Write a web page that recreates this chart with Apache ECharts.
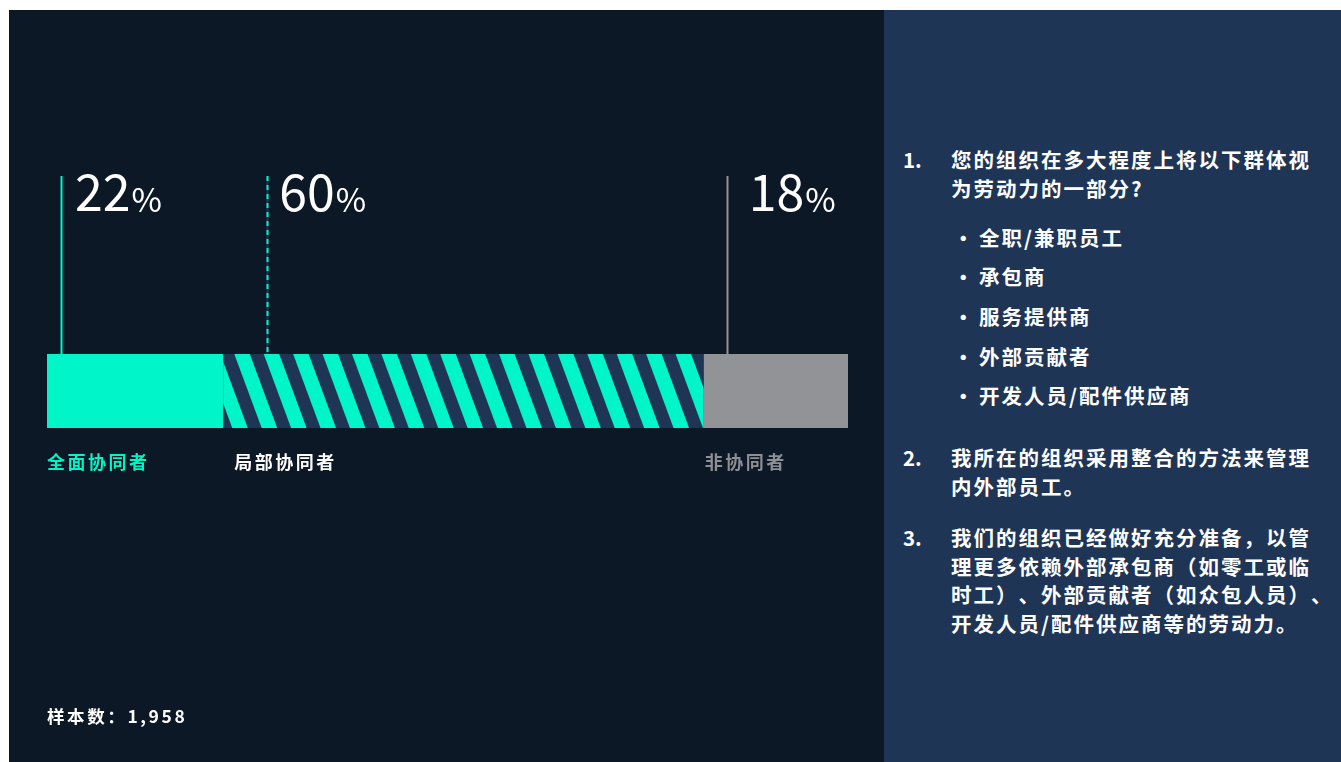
<!DOCTYPE html>
<html>
<head>
<meta charset="utf-8">
<script src="https://cdn.jsdelivr.net/npm/echarts@6/dist/echarts.min.js"></script>
<style>
  html, body { margin: 0; padding: 0; width: 1341px; height: 762px; overflow: hidden; background: #ffffff; }
  body { font-family: 'Noto Sans CJK SC', sans-serif; }
  #stage { position: absolute; left: 9px; top: 10px; width: 875px; height: 752px; background: #0d1826; }
  #chart { position: absolute; left: 0; top: 0; width: 1341px; height: 762px; }
  #notes { position: absolute; left: 884px; top: 10px; width: 457px; height: 752px; background: #1f3556;
           color: #ffffff; font-weight: 700; font-size: 20.5px; letter-spacing: 2px; text-spacing-trim: space-all; }
  #notes .blk { position: absolute; left: 0; width: 457px; line-height: 28.5px; white-space: nowrap; }
  #notes .num { position: absolute; left: 19px; top: 0; letter-spacing: 0; }
  #notes .txt { position: absolute; left: 67px; top: 0; }
  #notes .item { position: absolute; left: 0; width: 457px; height: 39.6px; line-height: 39.6px; white-space: nowrap; }
  #notes .dot { position: absolute; left: 69px; top: 0; letter-spacing: 0; }
  #notes .itxt { position: absolute; left: 95px; top: 0; }
</style>
</head>
<body>
<div id="stage"></div>
<div id="chart"></div>
<div id="notes"></div>
<script>
// Respondent split: full / partial / non collaborators
const categories = ['全面协同者', '局部协同者', '非协同者'];
const shares = [22, 60, 18];
const sampleLabel = '样本数：';
const sampleSize = '1,958';

// Survey statements shown in the side panel
const questionNumbers = ['1.', '2.', '3.'];
const question1Lines = ['您的组织在多大程度上将以下群体视', '为劳动力的一部分?'];
const question1Items = ['全职/兼职员工', '承包商', '服务提供商', '外部贡献者', '开发人员/配件供应商'];
const question2Lines = ['我所在的组织采用整合的方法来管理', '内外部员工。'];
const question3Lines = ['我们的组织已经做好充分准备，以管', '理更多依赖外部承包商（如零工或临', '时工）、外部贡献者（如众包人员）、', '开发人员/配件供应商等的劳动力。'];

// Palette
const TEAL = '#00f5c8';
const NAVY = '#1f3556';
const GREY = '#929397';
const FONT = "'Noto Sans CJK SC', 'Noto Sans', sans-serif";

// Layout of the callouts relative to each segment's left edge (px)
const calloutLineOffset = [14, 44, 23];
const calloutTextOffset = [14, 12, 22];
const categoryLabelOffset = [0, 11, 1];
const calloutColors = [TEAL, TEAL, GREY];
const categoryColors = [TEAL, '#ffffff', '#8e8f94'];

// Diagonal teal/navy hatch used for the partial segment
function stripeTexture() {
  const c = document.createElement('canvas');
  c.width = 1341; c.height = 762;
  const g = c.getContext('2d');
  g.fillStyle = NAVY;
  g.fillRect(0, 0, c.width, c.height);
  g.fillStyle = TEAL;
  const slope = 0.37, period = 29.42, band = 15.5, y0 = 354, phase = 234.3;
  for (let k = -20; k < 50; k++) {
    const a = phase + k * period;
    g.beginPath();
    g.moveTo(a - slope * y0, 0);
    g.lineTo(a - slope * y0 + band, 0);
    g.lineTo(a + slope * (c.height - y0) + band, c.height);
    g.lineTo(a + slope * (c.height - y0), c.height);
    g.closePath();
    g.fill();
  }
  return c;
}

const fills = [TEAL, { image: stripeTexture(), repeat: 'no-repeat' }, GREY];

// Spread characters apart using rich-text tokens
function spaced(str, key) {
  return Array.from(str).map(ch => '{' + key + '|' + ch + '}').join('');
}

const chart = echarts.init(document.getElementById('chart'), null, { renderer: 'canvas' });

chart.setOption({
  animation: false,
  backgroundColor: 'transparent',
  textStyle: { fontFamily: FONT },
  grid: { left: 47, top: 354, width: 801, height: 74, containLabel: false },
  xAxis: { type: 'value', min: 0, max: 100, show: false },
  yAxis: { type: 'category', data: [''], show: false },
  series: categories.map((name, i) => ({
    type: 'bar',
    name: name,
    stack: 'total',
    barWidth: 74,
    silent: true,
    itemStyle: { color: fills[i] },
    data: [shares[i]]
  }))
});

// Callout lines, value labels and category names, anchored to the bar scale
const yCenter = chart.convertToPixel({ yAxisIndex: 0 }, 0);
const barTop = yCenter - 37;
const barBottom = yCenter + 37;
const graphics = [];
let acc = 0;
shares.forEach((v, i) => {
  const x0 = chart.convertToPixel({ xAxisIndex: 0 }, acc);
  const lx = Math.round(x0 + calloutLineOffset[i]) + 0.5;
  if (i === 1) {
    graphics.push({ type: 'line', silent: true, shape: { x1: lx, y1: 176, x2: lx, y2: barTop },
      style: { stroke: NAVY, lineWidth: 2 } });
    graphics.push({ type: 'line', silent: true, shape: { x1: lx, y1: 176, x2: lx, y2: barTop },
      style: { stroke: TEAL, lineWidth: 2, lineDash: [5, 4] } });
  } else {
    graphics.push({ type: 'line', silent: true, shape: { x1: lx, y1: 176, x2: lx, y2: barTop },
      style: { stroke: calloutColors[i], lineWidth: 2 } });
  }
  graphics.push({
    type: 'text', silent: true,
    style: {
      x: x0 + calloutLineOffset[i] + calloutTextOffset[i], y: 163,
      text: '{n|' + v + '}{p|%}',
      verticalAlign: 'top',
      rich: {
        n: { fontFamily: FONT, fontSize: 50, lineHeight: 54, fill: '#ffffff', verticalAlign: 'bottom' },
        p: { fontFamily: FONT, fontSize: 33, lineHeight: 36, fill: '#ffffff', verticalAlign: 'bottom', padding: [0, 0, 1, 1] }
      }
    }
  });
  graphics.push({
    type: 'text', silent: true,
    style: {
      x: x0 + categoryLabelOffset[i], y: barBottom + 34,
      text: spaced(categories[i], 'c'),
      verticalAlign: 'middle',
      rich: { c: { fontFamily: FONT, fontSize: 18, fontWeight: 'bold', fill: categoryColors[i], padding: [0, 2.5, 0, 0] } }
    }
  });
  acc += v;
});

graphics.push({
  type: 'text', silent: true,
  style: {
    x: 47, y: 716,
    text: spaced(sampleLabel + sampleSize, 's'),
    verticalAlign: 'middle',
    rich: { s: { fontFamily: FONT, fontSize: 17.5, fontWeight: 'bold', fill: '#ffffff', padding: [0, 2.6, 0, 0] } }
  }
});

chart.setOption({ graphic: graphics });

// Side panel with the survey statements
const notes = document.getElementById('notes');
function block(top, number, lines) {
  const d = document.createElement('div');
  d.className = 'blk';
  d.style.top = top + 'px';
  d.innerHTML = '<span class="num">' + number + '</span><span class="txt">' + lines.join('<br>') + '</span>';
  notes.appendChild(d);
}
block(135, questionNumbers[0], question1Lines);
question1Items.forEach((t, i) => {
  const d = document.createElement('div');
  d.className = 'item';
  d.style.top = (207.7 + i * 39.6) + 'px';
  d.innerHTML = '<span class="dot">•</span><span class="itxt">' + t + '</span>';
  notes.appendChild(d);
});
block(433, questionNumbers[1], question2Lines);
block(513, questionNumbers[2], question3Lines);
</script>
</body>
</html>
